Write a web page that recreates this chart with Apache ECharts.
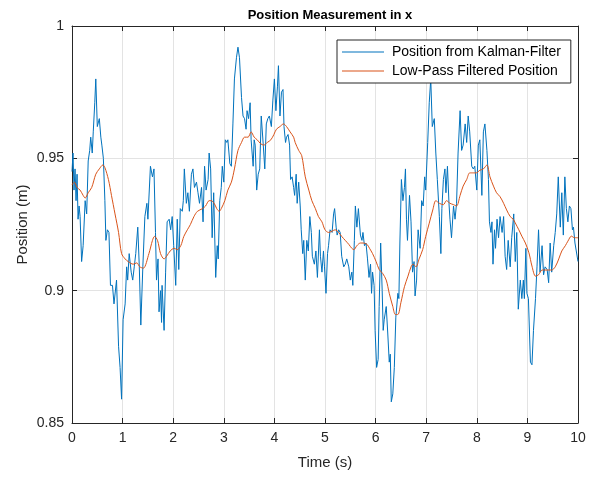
<!DOCTYPE html>
<html>
<head>
<meta charset="utf-8">
<script src="https://cdn.jsdelivr.net/npm/echarts@6/dist/echarts.min.js"></script>
<style>html,body{margin:0;padding:0;background:#fff;}#c{width:597px;height:477px;}</style>
</head>
<body>
<div id="c"></div>
<script>
// Tick values
const xTicks = [0,1,2,3,4,5,6,7,8,9,10];
const yTicks = [0.85,0.9,0.95,1];
const seriesNames = ['Position from Kalman-Filter', 'Low-Pass Filtered Position'];

// Position from Kalman-Filter: [time (s), position (m)]
const kalman = [
[0,0.945],[0.02,0.952],[0.04,0.938],[0.06,0.946],[0.08,0.934],[0.10,0.944],[0.12,0.927],[0.14,0.932],[0.16,0.928],[0.19,0.911],
[0.22,0.917],[0.26,0.934],[0.29,0.929],[0.32,0.949],[0.35,0.953],[0.37,0.958],[0.40,0.952],[0.42,0.960],[0.45,0.971],[0.47,0.980],
[0.50,0.962],[0.54,0.965],[0.57,0.958],[0.59,0.955],[0.62,0.950],[0.65,0.934],[0.67,0.919],[0.70,0.923],[0.73,0.922],[0.76,0.902],
[0.80,0.902],[0.83,0.895],[0.86,0.895],[0.88,0.904],[0.92,0.879],[0.95,0.871],[0.98,0.859],[1.01,0.889],[1.05,0.895],[1.08,0.909],
[1.10,0.904],[1.13,0.914],[1.17,0.907],[1.20,0.904],[1.23,0.909],[1.26,0.914],[1.30,0.924],[1.33,0.909],[1.36,0.887],[1.40,0.909],
[1.44,0.928],[1.48,0.933],[1.50,0.927],[1.55,0.947],[1.59,0.943],[1.62,0.946],[1.65,0.922],[1.67,0.904],[1.70,0.912],[1.72,0.892],
[1.75,0.900],[1.77,0.888],[1.78,0.902],[1.82,0.885],[1.85,0.907],[1.88,0.926],[1.92,0.927],[1.95,0.923],[1.98,0.928],[2.01,0.917],
[2.05,0.902],[2.08,0.927],[2.11,0.908],[2.14,0.931],[2.18,0.930],[2.20,0.934],[2.22,0.946],[2.26,0.933],[2.29,0.937],[2.32,0.930],
[2.36,0.944],[2.39,0.946],[2.42,0.939],[2.46,0.941],[2.49,0.937],[2.52,0.933],[2.56,0.939],[2.59,0.926],[2.62,0.947],[2.65,0.938],
[2.69,0.942],[2.71,0.952],[2.74,0.946],[2.77,0.920],[2.80,0.937],[2.84,0.905],[2.87,0.917],[2.89,0.912],[2.92,0.934],[2.95,0.939],
[2.97,0.947],[3.00,0.941],[3.03,0.957],[3.06,0.956],[3.08,0.957],[3.12,0.948],[3.15,0.947],[3.18,0.963],[3.21,0.980],[3.25,0.988],
[3.28,0.992],[3.31,0.988],[3.35,0.973],[3.38,0.966],[3.41,0.965],[3.44,0.961],[3.46,0.968],[3.49,0.965],[3.52,0.971],[3.54,0.957],
[3.58,0.947],[3.60,0.957],[3.62,0.955],[3.65,0.938],[3.68,0.944],[3.71,0.946],[3.74,0.966],[3.78,0.955],[3.81,0.946],[3.84,0.963],
[3.87,0.965],[3.90,0.966],[3.94,0.962],[3.97,0.972],[4.00,0.980],[4.03,0.968],[4.06,0.977],[4.08,0.985],[4.11,0.966],[4.14,0.975],
[4.17,0.976],[4.19,0.962],[4.22,0.956],[4.24,0.958],[4.27,0.959],[4.30,0.955],[4.32,0.942],[4.35,0.943],[4.38,0.939],[4.40,0.936],
[4.43,0.944],[4.45,0.933],[4.48,0.941],[4.51,0.932],[4.53,0.923],[4.56,0.914],[4.58,0.919],[4.61,0.904],[4.64,0.919],[4.67,0.915],
[4.70,0.928],[4.73,0.922],[4.75,0.913],[4.79,0.910],[4.82,0.915],[4.85,0.905],[4.89,0.923],[4.91,0.913],[4.94,0.907],[4.97,0.915],
[4.99,0.909],[5.02,0.899],[5.05,0.914],[5.07,0.917],[5.10,0.923],[5.14,0.922],[5.17,0.929],[5.19,0.931],[5.22,0.924],[5.24,0.921],
[5.27,0.923],[5.30,0.922],[5.33,0.913],[5.37,0.909],[5.40,0.910],[5.43,0.912],[5.47,0.909],[5.50,0.904],[5.53,0.907],[5.55,0.902],
[5.58,0.919],[5.60,0.932],[5.63,0.924],[5.66,0.931],[5.70,0.921],[5.73,0.919],[5.75,0.922],[5.78,0.917],[5.81,0.918],[5.84,0.912],
[5.87,0.905],[5.90,0.910],[5.92,0.899],[5.94,0.907],[5.97,0.902],[5.99,0.885],[6.02,0.871],[6.05,0.874],[6.07,0.894],[6.10,0.918],
[6.13,0.900],[6.15,0.885],[6.17,0.889],[6.21,0.894],[6.24,0.884],[6.27,0.873],[6.29,0.876],[6.31,0.858],[6.34,0.861],[6.37,0.871],
[6.40,0.890],[6.44,0.899],[6.46,0.897],[6.48,0.918],[6.51,0.942],[6.54,0.934],[6.57,0.939],[6.59,0.946],[6.61,0.927],[6.63,0.919],
[6.67,0.936],[6.70,0.926],[6.73,0.907],[6.76,0.911],[6.78,0.898],[6.81,0.904],[6.84,0.923],[6.88,0.916],[6.91,0.934],[6.94,0.932],
[6.97,0.943],[6.99,0.938],[7.03,0.956],[7.06,0.971],[7.09,0.980],[7.12,0.962],[7.16,0.965],[7.19,0.952],[7.22,0.942],[7.26,0.928],
[7.29,0.914],[7.31,0.931],[7.34,0.942],[7.37,0.946],[7.39,0.937],[7.42,0.947],[7.45,0.933],[7.47,0.927],[7.50,0.920],[7.54,0.932],
[7.57,0.927],[7.60,0.933],[7.63,0.952],[7.67,0.968],[7.70,0.953],[7.73,0.955],[7.77,0.963],[7.80,0.956],[7.83,0.966],[7.86,0.960],
[7.90,0.947],[7.93,0.946],[7.96,0.947],[8.00,0.938],[8.03,0.955],[8.06,0.957],[8.10,0.936],[8.13,0.960],[8.16,0.963],[8.20,0.953],
[8.23,0.942],[8.25,0.926],[8.28,0.922],[8.30,0.926],[8.32,0.910],[8.35,0.923],[8.37,0.916],[8.40,0.927],[8.43,0.920],[8.46,0.928],
[8.50,0.922],[8.53,0.928],[8.56,0.913],[8.59,0.908],[8.62,0.919],[8.66,0.909],[8.69,0.920],[8.73,0.929],[8.76,0.911],[8.79,0.922],
[8.82,0.893],[8.86,0.904],[8.89,0.897],[8.92,0.904],[8.94,0.897],[8.97,0.916],[8.99,0.899],[9.02,0.897],[9.06,0.873],[9.09,0.872],
[9.12,0.885],[9.16,0.897],[9.19,0.909],[9.22,0.923],[9.25,0.907],[9.29,0.917],[9.32,0.906],[9.35,0.909],[9.39,0.908],[9.42,0.903],
[9.45,0.918],[9.48,0.907],[9.52,0.917],[9.55,0.922],[9.58,0.929],[9.61,0.943],[9.65,0.924],[9.68,0.937],[9.71,0.921],[9.74,0.943],
[9.77,0.931],[9.80,0.926],[9.83,0.932],[9.86,0.931],[9.89,0.923],[9.91,0.924],[9.94,0.918],[10.0,0.911]
];

// Low-Pass Filtered Position: [time (s), position (m)]
const lowPass = [
[0,0.940],[0.05,0.941],[0.10,0.939],[0.16,0.938],[0.22,0.936],[0.26,0.935],[0.32,0.937],[0.39,0.939],[0.47,0.944],[0.54,0.946],
[0.61,0.9475],[0.65,0.9465],[0.72,0.942],[0.78,0.936],[0.85,0.929],[0.92,0.922],[0.98,0.914],[1.05,0.912],[1.11,0.911],[1.21,0.910],
[1.28,0.9105],[1.34,0.909],[1.41,0.9085],[1.52,0.914],[1.59,0.919],[1.63,0.9205],[1.69,0.919],[1.75,0.914],[1.82,0.912],[1.87,0.913],
[1.94,0.915],[2.02,0.916],[2.08,0.9155],[2.15,0.917],[2.21,0.9205],[2.28,0.923],[2.34,0.925],[2.41,0.928],[2.48,0.930],[2.58,0.931],
[2.64,0.932],[2.71,0.934],[2.75,0.934],[2.81,0.933],[2.86,0.931],[2.91,0.930],[2.95,0.931],[3.02,0.934],[3.08,0.938],[3.15,0.941],
[3.21,0.946],[3.28,0.953],[3.35,0.956],[3.41,0.958],[3.48,0.958],[3.54,0.960],[3.60,0.958],[3.66,0.957],[3.73,0.9555],[3.79,0.955],
[3.86,0.956],[3.93,0.957],[3.99,0.959],[4.04,0.961],[4.11,0.962],[4.18,0.963],[4.24,0.962],[4.31,0.960],[4.38,0.958],[4.41,0.956],
[4.48,0.953],[4.54,0.951],[4.61,0.943],[4.68,0.938],[4.74,0.934],[4.81,0.931],[4.87,0.928],[4.94,0.926],[5.00,0.923],[5.07,0.922],
[5.14,0.9225],[5.20,0.923],[5.27,0.922],[5.33,0.9205],[5.40,0.919],[5.47,0.9175],[5.53,0.916],[5.57,0.9155],[5.63,0.917],[5.70,0.918],
[5.76,0.918],[5.83,0.9175],[5.88,0.916],[5.94,0.914],[6.01,0.911],[6.07,0.908],[6.14,0.9065],[6.21,0.904],[6.27,0.899],[6.34,0.894],
[6.39,0.891],[6.44,0.891],[6.50,0.8955],[6.57,0.9015],[6.64,0.9055],[6.70,0.909],[6.74,0.910],[6.80,0.909],[6.86,0.912],[6.93,0.9155],
[6.99,0.9205],[7.06,0.9255],[7.13,0.9305],[7.19,0.934],[7.26,0.933],[7.34,0.9325],[7.40,0.934],[7.47,0.933],[7.54,0.9325],[7.60,0.932],
[7.67,0.936],[7.73,0.9395],[7.80,0.942],[7.86,0.9445],[7.93,0.9445],[7.99,0.9445],[8.06,0.9455],[8.13,0.946],[8.20,0.9475],[8.26,0.943],
[8.33,0.9395],[8.39,0.937],[8.46,0.9355],[8.53,0.933],[8.59,0.9305],[8.66,0.928],[8.72,0.927],[8.76,0.9256],[8.83,0.923],[8.89,0.9206],
[8.96,0.918],[9.03,0.9143],[9.09,0.9093],[9.16,0.9055],[9.22,0.906],[9.29,0.9078],[9.35,0.9078],[9.42,0.9078],[9.48,0.9078],[9.55,0.909],
[9.62,0.912],[9.68,0.915],[9.75,0.917],[9.80,0.9187],[9.87,0.9206],[9.93,0.920],[10.0,0.920]
];

const AX = '#262626';
const FONT = 'Liberation Sans, Arial, Helvetica, sans-serif';
const chart = echarts.init(document.getElementById('c'), null, {renderer: 'canvas'});
const fmt = v => String(+(+v).toFixed(2));

function xAx(pos, show) {
  return {
    type: 'value', position: pos, min: xTicks[0], max: xTicks[xTicks.length - 1], interval: 1,
    axisLine: {show: true, onZero: false, lineStyle: {color: AX, width: 1}},
    axisTick: {show: true, inside: true, length: 5, lineStyle: {color: AX}},
    axisLabel: {show: show, color: AX, fontSize: 14, fontFamily: FONT, margin: 8, formatter: fmt},
    splitLine: {show: show, lineStyle: {color: '#e3e3e3', width: 1}},
    name: show ? 'Time (s)' : '', nameLocation: 'middle', nameGap: 32,
    nameTextStyle: {color: AX, fontSize: 15, fontFamily: FONT}
  };
}
function yAx(pos, show) {
  return {
    type: 'value', position: pos, min: yTicks[0], max: yTicks[yTicks.length - 1], interval: 0.05,
    axisLine: {show: true, onZero: false, lineStyle: {color: AX, width: 1}},
    axisTick: {show: true, inside: true, length: 5, lineStyle: {color: AX}},
    axisLabel: {show: show, color: AX, fontSize: 14, fontFamily: FONT, margin: 8, formatter: fmt},
    splitLine: {show: show, lineStyle: {color: '#e3e3e3', width: 1}},
    name: show ? 'Position (m)' : '', nameLocation: 'middle', nameGap: 42, nameRotate: 90,
    nameMoveOverlap: false,
    nameTextStyle: {color: AX, fontSize: 15, fontFamily: FONT}
  };
}

chart.setOption({
  animation: false,
  backgroundColor: '#fff',
  title: {
    text: 'Position Measurement in x', left: 325, top: 4, textAlign: 'center',
    textStyle: {color: '#000', fontSize: 13, fontWeight: 'bold', fontFamily: FONT}
  },
  grid: {left: 72, right: 19, top: 26, bottom: 54, containLabel: false},
  legend: {
    data: seriesNames, orient: 'vertical', left: 337, top: 40, icon: 'rect',
    backgroundColor: '#fff', borderColor: AX, borderWidth: 1, borderRadius: 0,
    padding: [5, 10, 5, 5], itemGap: 5, itemWidth: 42, itemHeight: 1,
    textStyle: {color: '#000', fontSize: 14, fontFamily: FONT, padding: [0, 0, 0, 3]}
  },
  xAxis: [xAx('bottom', true), xAx('top', false)],
  yAxis: [yAx('left', true), yAx('right', false)],
  series: [
    {name: seriesNames[0], type: 'line', data: kalman, symbol: 'none', showSymbol: false,
     lineStyle: {color: '#0072BD', width: 1}, itemStyle: {color: '#0072BD'}, z: 2},
    {name: seriesNames[1], type: 'line', data: lowPass, symbol: 'none', showSymbol: false, smooth: 0.3,
     lineStyle: {color: '#D95319', width: 1}, itemStyle: {color: '#D95319'}, z: 3}
  ]
});
</script>
</body>
</html>
